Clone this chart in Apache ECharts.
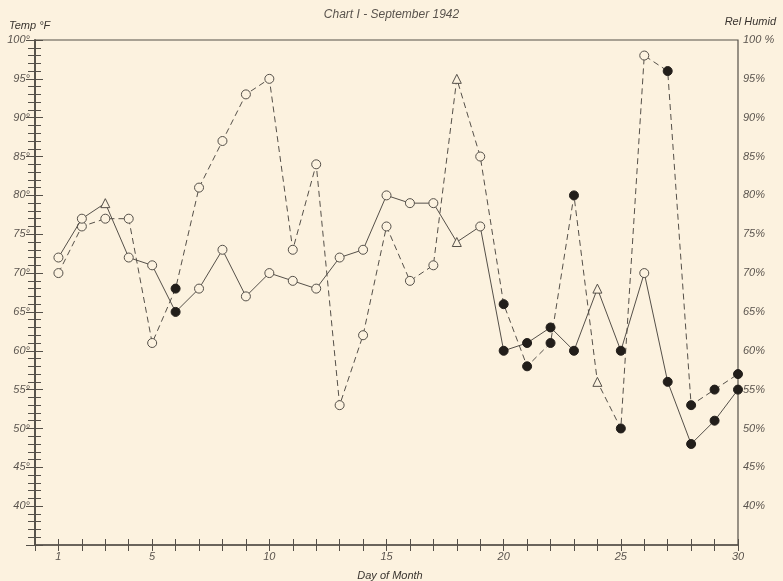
<!DOCTYPE html>
<html><head><meta charset="utf-8">
<script src="https://cdn.jsdelivr.net/npm/echarts@6/dist/echarts.min.js"></script>
<style>html,body{margin:0;padding:0;background:#fcf2df;}#c{width:783px;height:581px;}</style>
</head><body><div id="c"></div>
<script>
const days = [1,2,3,4,5,6,7,8,9,10,11,12,13,14,15,16,17,18,19,20,21,22,23,24,25,26,27,28,29,30];
const tempF = [72,77,79,72,71,65,68,73,67,70,69,68,72,73,80,79,79,74,76,60,61,63,60,68,60,70,56,48,51,55];
const relHumid = [70,76,77,77,61,68,81,87,93,95,73,84,53,62,76,69,71,95,85,66,58,61,80,56,50,98,96,53,55,57];
// o = open circle, f = filled circle, t = open triangle
const tempMarks = ['o','o','t','o','o','f','o','o','o','o','o','o','o','o','o','o','o','t','o','f','f','f','f','t','f','o','f','f','f','f'];
const humidMarks = ['o','o','o','o','o','f','o','o','o','o','o','o','o','o','o','o','o','t','o','f','f','f','f','t','f','o','f','f','f','f'];
const xLabels = [1,5,10,15,20,25,30];
const tempTicks = [40,45,50,55,60,65,70,75,80,85,90,95,100];

const ink = '#555049';
const bg = '#fcf2df';
const font = 'Liberation Sans';

function build(vals, marks){
  return vals.map((v,i)=>{
    const m = marks[i];
    const item = {value:[days[i], v]};
    if(m==='f'){ item.symbol='circle'; item.symbolSize=9; item.itemStyle={color:'#221e1a',borderColor:'#221e1a',borderWidth:1}; }
    else if(m==='t'){ item.symbol='triangle'; item.symbolSize=9; item.itemStyle={color:bg,borderColor:ink,borderWidth:1}; }
    else { item.symbol='circle'; item.symbolSize=9; item.itemStyle={color:bg,borderColor:ink,borderWidth:1}; }
    return item;
  });
}

const chart = echarts.init(document.getElementById('c'));
const lbl = {fontFamily:font, fontStyle:'italic', fontSize:11, color:'#5a544e'};
chart.setOption({
  backgroundColor: bg,
  animation:false,
  title:[
    {text:'Chart I - September 1942', left:'center', top:4, textStyle:Object.assign({},lbl,{fontSize:12,fontWeight:'normal'})},
    {text:'Temp °F', left:4, top:15, textStyle:Object.assign({},lbl,{fontSize:11,fontWeight:'normal',color:'#3a3530'})},
    {text:'Rel Humid', right:2, top:11, textStyle:Object.assign({},lbl,{fontSize:11,fontWeight:'normal',color:'#3a3530'})},
    {text:'Day of Month', left:385, top:565, textAlign:'center', textStyle:Object.assign({},lbl,{fontSize:11,fontWeight:'normal',color:'#3a3530'})}
  ],
  grid:{left:35, right:45, top:40, bottom:36, show:true, borderColor:ink, borderWidth:1.2, backgroundColor:'transparent'},
  xAxis:[
    {type:'value', min:0, max:30, interval:1, position:'bottom',
     axisLine:{lineStyle:{color:ink,width:1.5}},
     axisTick:{show:true, inside:false, length:6, lineStyle:{color:ink}},
     axisLabel:Object.assign({},lbl,{margin:6, formatter:v=> xLabels.indexOf(v)>=0 ? String(v) : ''}),
     splitLine:{show:false}},
    {type:'value', min:0, max:30, interval:1, position:'bottom', gridIndex:0,
     axisLine:{show:false},
     axisTick:{show:true, inside:true, length:6, lineStyle:{color:ink}},
     axisLabel:{show:false}, splitLine:{show:false}}
  ],
  yAxis:[
    {type:'value', min:35, max:100, interval:5, position:'left',
     axisLine:{show:true, lineStyle:{color:ink,width:1.5}},
     axisTick:{show:true, inside:true, length:8, lineStyle:{color:ink}},
     minorTick:{show:true, splitNumber:5, length:6, lineStyle:{color:ink}},
     axisLabel:Object.assign({},lbl,{margin:5, formatter:v=> tempTicks.indexOf(v)>=0 ? v+'°' : ''}),
     splitLine:{show:false}},
    {type:'value', min:35, max:100, interval:5, position:'right',
     axisLine:{show:true, lineStyle:{color:ink,width:1.5}},
     axisTick:{show:true, inside:true, length:9, lineStyle:{color:ink}},
     minorTick:{show:true, splitNumber:5, length:7, lineStyle:{color:ink}},
     axisLabel:Object.assign({},lbl,{margin:5, formatter:v=> v===100 ? '100 %' : (tempTicks.indexOf(v)>=0 ? v+'%' : '')}),
     splitLine:{show:false}}
  ],
  series:[
    {name:'Temperature', type:'line', xAxisIndex:0, yAxisIndex:0, data:build(tempF,tempMarks),
     lineStyle:{color:ink,width:1}, z:3},
    {name:'Relative Humidity', type:'line', xAxisIndex:0, yAxisIndex:1, data:build(relHumid,humidMarks),
     lineStyle:{color:ink,width:1,type:[6,4]}, z:2}
  ]
});
</script></body></html>
